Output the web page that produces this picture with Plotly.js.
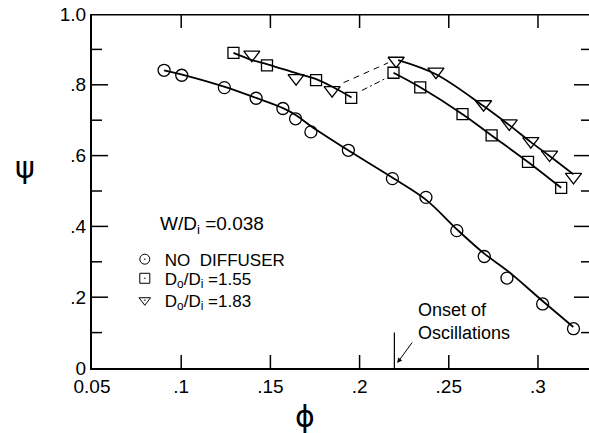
<!DOCTYPE html>
<html>
<head>
<meta charset="utf-8">
<script src="https://cdn.plot.ly/plotly-3.0.1.min.js"></script>
<style>html,body{margin:0;padding:0;background:#fff;overflow:hidden}</style>
</head>
<body>
<div id="chart" style="width:589px;height:433px"></div>
<script>
// Measured points (markers)
const phiNoDiff = [0.0904,0.1003,0.1242,0.1420,0.1570,0.1641,0.1727,0.1937,0.2184,0.2372,0.2545,0.2699,0.2826,0.3026,0.3199];
const psiNoDiff = [0.841,0.827,0.792,0.762,0.733,0.704,0.667,0.615,0.535,0.482,0.388,0.315,0.254,0.181,0.111];
const phiD155 = [0.1293,0.1481,0.1756,0.1953,0.2190,0.2340,0.2577,0.2740,0.2944,0.3130];
const psiD155 = [0.890,0.855,0.813,0.763,0.834,0.793,0.717,0.657,0.582,0.509];
const phiD183 = [0.1396,0.1644,0.1846,0.2205,0.2428,0.2695,0.2839,0.2960,0.3065,0.3199];
const psiD183 = [0.885,0.819,0.785,0.868,0.837,0.745,0.691,0.641,0.603,0.540];

// Faired curves
const curveNoDiffPhi = [0.0904,0.1005,0.124,0.142,0.1571,0.1644,0.1728,0.1936,0.2183,0.2373,0.2547,0.2699,0.2828,0.3024,0.3198];
const curveNoDiffPsi = [0.841,0.829,0.795,0.763,0.734,0.714,0.683,0.615,0.538,0.475,0.391,0.323,0.275,0.190,0.116];
const curveLeftPhi = [0.1293,0.1396,0.1484,0.1649,0.1757,0.1845,0.1955];
const curveLeftPsi = [0.890,0.870,0.858,0.832,0.816,0.795,0.764];
const curveD155RightPhi = [0.2190,0.2340,0.2577,0.2740,0.2944,0.3130];
const curveD155RightPsi = [0.834,0.793,0.717,0.657,0.582,0.509];
const curveD183RightPhi = [0.2216,0.2428,0.2695,0.2839,0.2960,0.3065,0.3199];
const curveD183RightPsi = [0.870,0.830,0.740,0.686,0.638,0.599,0.547];
const dashD183Phi = [0.1910,0.2160];
const dashD183Psi = [0.806,0.862];
const dashD155Phi = [0.2013,0.2146];
const dashD155Psi = [0.784,0.818];

// Axis ranges and ticks
const xRange = [0.05, 0.3286];
const yRange = [0, 1.0];
const xTickVals = [0.05,0.1,0.15,0.2,0.25,0.3];
const xTickText = ["0.05",".1",".15",".2",".25",".3"];
const yTickVals = [0,0.2,0.4,0.6,0.8,1.0];
const yTickText = ["0",".2",".4",".6",".8","1.0"];
const yMinorVals = [0.1,0.3,0.5,0.7,0.9];
const onsetPhi = 0.2195;

const FONT = "Liberation Sans, Arial, sans-serif";
const TICK = {color: 'black', width: 1.5};

function curve(x, y, dash, width) {
  return {x: x, y: y, type: 'scatter', mode: 'lines', showlegend: false, hoverinfo: 'skip',
    line: {color: 'black', width: width || 1.8, dash: dash || 'solid', shape: dash ? 'linear' : 'spline', smoothing: 1}};
}
function markers(x, y, sym, size) {
  return {x: x, y: y, type: 'scatter', mode: 'markers', showlegend: false,
    marker: {symbol: sym, size: size, color: 'black', line: {color: 'black', width: 1.3}}};
}
function legendItem(name, sym, legendId) {
  return {x: [null], y: [null], type: 'scatter', mode: 'markers', name: name, showlegend: true, legend: legendId,
    marker: {symbol: sym, size: 10, color: 'black', line: {color: 'black', width: 1}}};
}

// Inside tick marks on all four sides, anchored through the axes' own scales
function xTick(v, anchor, len) {
  return {type: 'line', xref: 'x', yref: 'y', ysizemode: 'pixel', yanchor: anchor,
    x0: v, x1: v, y0: 0, y1: anchor === yRange[0] ? len : -len, line: TICK};
}
function yTick(v, anchor, len) {
  return {type: 'line', yref: 'y', xref: 'x', xsizemode: 'pixel', xanchor: anchor,
    y0: v, y1: v, x0: 0, x1: anchor === xRange[0] ? len : -len, line: TICK};
}
const innerX = xTickVals.filter(function(v){ return v > xRange[0]; });
const innerY = yTickVals.filter(function(v){ return v > yRange[0] && v < yRange[1]; });
const tickShapes = [].concat(
  innerX.map(function(v){ return xTick(v, yRange[0], 13); }),
  innerX.map(function(v){ return xTick(v, yRange[1], 14); }),
  innerY.map(function(v){ return yTick(v, xRange[0], 16); }),
  innerY.map(function(v){ return yTick(v, xRange[1], 15); }),
  yMinorVals.map(function(v){ return yTick(v, xRange[0], 10); }),
  yMinorVals.map(function(v){ return yTick(v, xRange[1], 8); })
);

const data = [
  curve(curveNoDiffPhi, curveNoDiffPsi),
  curve(curveLeftPhi, curveLeftPsi),
  curve(curveD155RightPhi, curveD155RightPsi),
  curve(curveD183RightPhi, curveD183RightPsi),
  curve(dashD183Phi, dashD183Psi, '6px,5px', 1),
  curve(dashD155Phi, dashD155Psi, '6px,3px,2px,3px', 1),
  markers(phiNoDiff, psiNoDiff, 'circle-open', 12),
  markers(phiD155, psiD155, 'square-open', 11),
  markers(phiD183, psiD183, 'triangle-down-open', 14),
  legendItem('NO  DIFFUSER', 'circle-open-dot', 'legend'),
  legendItem('D<sub>o</sub>/D<sub>i</sub> =1.55', 'square-open-dot', 'legend2'),
  legendItem('D<sub>o</sub>/D<sub>i</sub> =1.83', 'triangle-down-open-dot', 'legend3')
];

function legendBox(y) {
  return {x: 0.066, y: y, xanchor: 'left', yanchor: 'top', bgcolor: 'rgba(0,0,0,0)',
    font: {family: FONT, size: 17, color: 'black'}};
}

const layout = {
  width: 589, height: 433,
  margin: {l: 92, r: 0, t: 14, b: 65},
  paper_bgcolor: 'white', plot_bgcolor: 'white',
  font: {family: FONT, color: 'black', size: 18},
  showlegend: true,
  legend: legendBox(0.357),
  legend2: legendBox(0.303),
  legend3: legendBox(0.241),
  xaxis: {range: xRange, tickmode: 'array', tickvals: xTickVals, ticktext: xTickText,
    ticks: '', showline: true, linewidth: 2, linecolor: 'black', mirror: false,
    showgrid: false, zeroline: false,
    tickfont: {family: FONT, size: 19, color: 'black'}},
  yaxis: {range: yRange, tickmode: 'array', tickvals: yTickVals, ticktext: yTickText,
    ticks: '', showline: true, linewidth: 2, linecolor: 'black', mirror: false,
    showgrid: false, zeroline: false,
    tickfont: {family: FONT, size: 19, color: 'black'}},
  shapes: [
    {type: 'line', xref: 'x', yref: 'y', x0: xRange[0], x1: xRange[1], y0: yRange[1], y1: yRange[1], line: {color: 'black', width: 3}},
    {type: 'line', xref: 'x', yref: 'y', x0: onsetPhi, x1: onsetPhi, y0: 0, y1: 0.1, line: {color: 'black', width: 1.2}}
  ].concat(tickShapes),
  annotations: [
    {xref: 'paper', yref: 'paper', x: -0.135, y: 0.565, xanchor: 'center', yanchor: 'middle', text: 'ψ', showarrow: false,
      font: {family: 'DejaVu Sans, sans-serif', size: 30, color: 'black'}},
    {xref: 'paper', yref: 'paper', x: 0.4286, y: -0.138, xanchor: 'center', yanchor: 'middle', text: 'ϕ', showarrow: false,
      font: {family: 'DejaVu Sans, sans-serif', size: 30, color: 'black'}},
    {xref: 'paper', yref: 'paper', x: 0.132, y: 0.404, xanchor: 'left', yanchor: 'middle',
      text: 'W/D<sub>i</sub> =0.038', showarrow: false, font: {family: FONT, size: 19, color: 'black'}},
    {xref: 'x', yref: 'y', x: 0.2317, y: 0.13, xanchor: 'left', yanchor: 'middle', align: 'left',
      text: 'Onset of<br>Oscillations', showarrow: false, font: {family: FONT, size: 18, color: 'black'}},
    {xref: 'x', yref: 'y', x: 0.2211, y: 0.014, text: '', showarrow: true, ax: 16, ay: -22,
      arrowhead: 2, arrowsize: 1, arrowwidth: 1, arrowcolor: 'black', standoff: 0}
  ]
};

Plotly.newPlot('chart', data, layout, {staticPlot: true, displayModeBar: false});
</script>
</body>
</html>
